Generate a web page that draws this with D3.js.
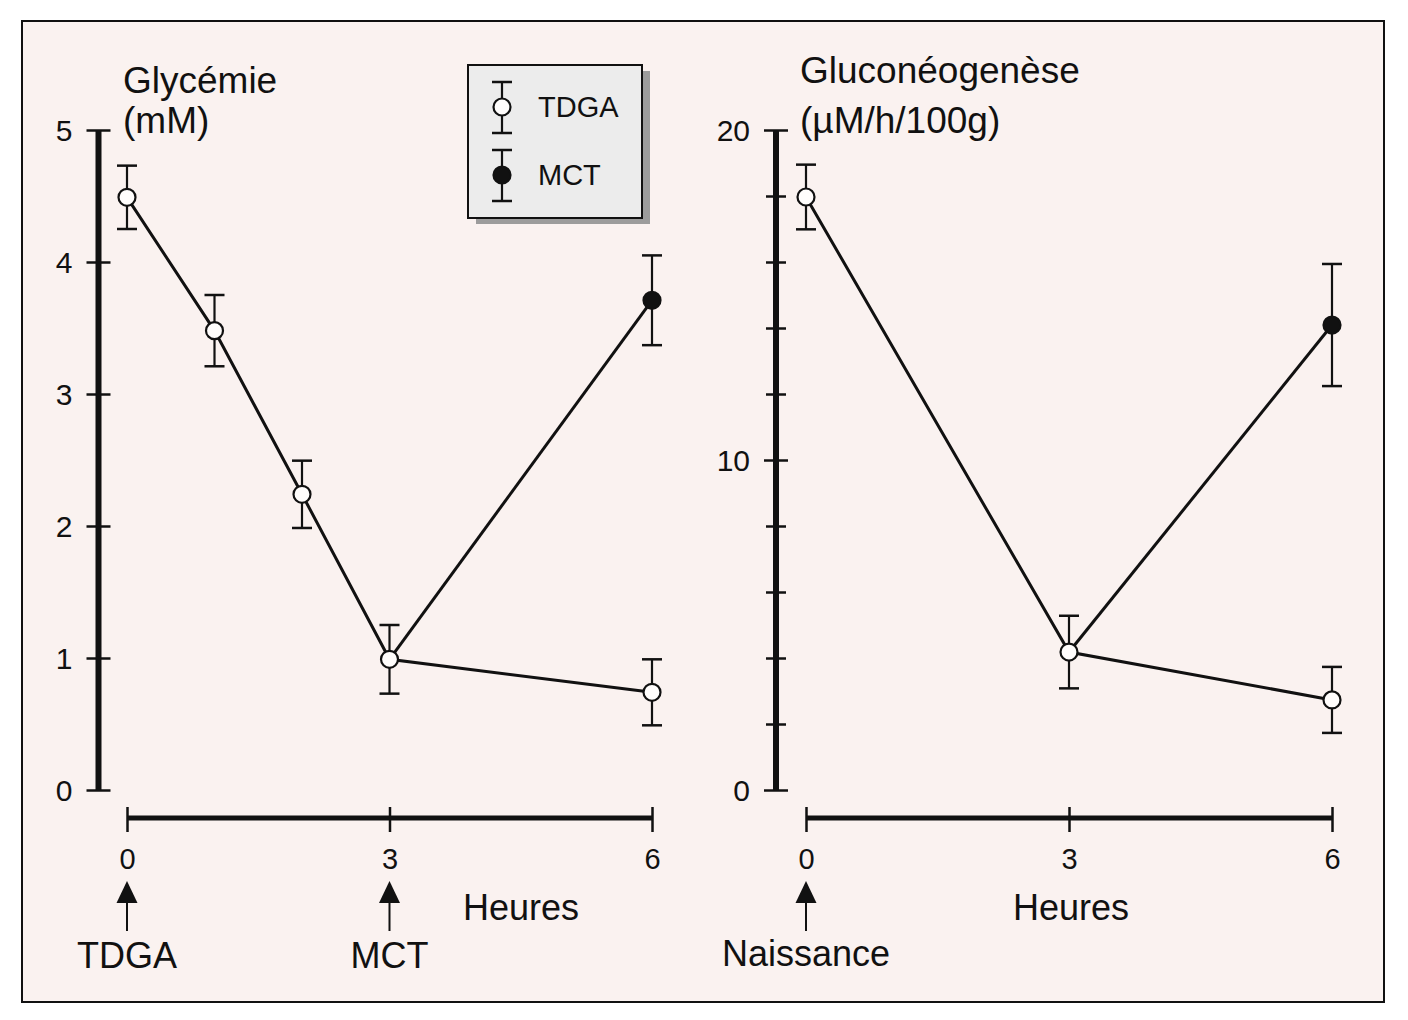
<!DOCTYPE html>
<html><head><meta charset="utf-8">
<script src="https://cdn.jsdelivr.net/npm/d3@7"></script>
<style>
html,body{margin:0;padding:0;background:#fff;}
svg{display:block;}
text{font-family:"Liberation Sans",Arial,Helvetica,sans-serif;fill:#111;}
</style></head>
<body>
<svg id="chart" width="1408" height="1020"></svg>
<script>
// ---- data ----
const hoursGly = [0, 1, 2, 3, 6];
const glyTDGA = [4.49, 3.48, 2.24, 0.99, 0.74];
const glyTDGAerr = [0.24, 0.27, 0.255, 0.26, 0.25];
const glyMCTHours = [6];
const glyMCT = [3.71];
const glyMCTerr = [0.34];

const hoursGng = [0, 3, 6];
const gngTDGA = [17.97, 4.18, 2.73];
const gngTDGAerr = [0.98, 1.1, 1.0];
const gngMCTHours = [6];
const gngMCT = [14.09];
const gngMCTerr = [1.85];

const glyTicks = [0, 1, 2, 3, 4, 5];
const gngTicks = [0, 2, 4, 6, 8, 10, 12, 14, 16, 18, 20];
const gngLabelled = [0, 10, 20];
const hourTicks = [0, 3, 6];
const seriesNames = ["TDGA", "MCT"];

// ---- drawing ----
const svg = d3.select("#chart");
const BG = "#faf2f0";
svg.append("rect").attr("x", 22).attr("y", 21).attr("width", 1362).attr("height", 981)
  .attr("fill", BG).attr("stroke", "#111").attr("stroke-width", 2);

function panel(opts) {
  const x = d3.scaleLinear().domain([0, 6]).range(opts.xRange);
  const y = d3.scaleLinear().domain(opts.yDomain).range([790, 130]);
  const g = svg.append("g");
  const axX = opts.axisX;

  // y axis
  const yAxis = d3.axisLeft(y).tickValues(opts.yTicks).tickSize(0).tickPadding(26)
    .tickFormat(d => opts.yLabelled.includes(d) ? d3.format("d")(d) : "");
  const ya = g.append("g").attr("transform", `translate(${axX},0)`).call(yAxis);
  ya.select(".domain").remove();
  ya.append("line").attr("x1", 0).attr("x2", 0).attr("y1", y.range()[0]).attr("y2", y.range()[1])
    .attr("stroke", "#111").attr("stroke-width", 6);
  ya.selectAll(".tick").append("line")
    .attr("x1", d => opts.yLabelled.includes(d) ? -12 : -10)
    .attr("x2", d => opts.yLabelled.includes(d) ? 12 : 10)
    .attr("stroke", "#111").attr("stroke-width", 2.5);
  ya.selectAll(".tick text").attr("font-size", 30).attr("fill", "#111").attr("dy", "0.36em")
    .style("font-family", '"Liberation Sans",Arial,sans-serif');

  // x axis
  const xAxis = d3.axisBottom(x).tickValues(hourTicks).tickSize(0).tickFormat(d3.format("d"));
  const xa = g.append("g").attr("transform", "translate(0,818)").call(xAxis);
  xa.select(".domain").remove();
  xa.append("line").attr("x1", x(0)).attr("x2", x(6)).attr("y1", 0).attr("y2", 0)
    .attr("stroke", "#111").attr("stroke-width", 5);
  xa.selectAll(".tick").append("line").attr("y1", -11).attr("y2", 14)
    .attr("stroke", "#111").attr("stroke-width", 2.5);
  xa.selectAll(".tick text").attr("font-size", 29).attr("fill", "#111").attr("y", 51).attr("dy", null)
    .style("font-family", '"Liberation Sans",Arial,sans-serif');

  // titles
  const t = g.append("text").attr("x", opts.titleX).attr("font-size", 37);
  t.append("tspan").attr("x", opts.titleX).attr("y", opts.titleY).text(opts.title[0]);
  t.append("tspan").attr("x", opts.titleX).attr("y", 133).text(opts.title[1]);

  // Heures
  g.append("text").attr("x", opts.heuresX).attr("y", 920).attr("text-anchor", "middle")
    .attr("font-size", 36).text("Heures");

  // arrows
  opts.arrows.forEach(a => {
    const ax = x(a.h);
    g.append("line").attr("x1", ax).attr("x2", ax).attr("y1", 931).attr("y2", 898)
      .attr("stroke", "#111").attr("stroke-width", 2);
    g.append("path").attr("d", `M${ax},881 L${ax - 10.5},903 L${ax + 10.5},903 Z`).attr("fill", "#111");
    g.append("text").attr("x", ax).attr("y", a.y).attr("text-anchor", "middle")
      .attr("font-size", 36).text(a.label);
  });

  // lines
  const line = d3.line().x(d => x(d.h)).y(d => y(d.v));
  const tdga = opts.hours.map((h, i) => ({h, v: opts.tdga[i], e: opts.tdgaErr[i]}));
  const mct = opts.mctHours.map((h, i) => ({h, v: opts.mct[i], e: opts.mctErr[i]}));
  const start = tdga.find(d => d.h === 3);
  g.append("path").datum(tdga).attr("d", line).attr("fill", "none").attr("stroke", "#111").attr("stroke-width", 3);
  g.append("path").datum([start, ...mct]).attr("d", line).attr("fill", "none").attr("stroke", "#111").attr("stroke-width", 3);

  function points(data, fill) {
    data.forEach(d => {
      const px = x(d.h), hi = y(d.v + d.e), lo = y(d.v - d.e);
      g.append("line").attr("x1", px).attr("x2", px).attr("y1", hi).attr("y2", lo)
        .attr("stroke", "#111").attr("stroke-width", 2.2);
      [hi, lo].forEach(yy => g.append("line").attr("x1", px - 10).attr("x2", px + 10)
        .attr("y1", yy).attr("y2", yy).attr("stroke", "#111").attr("stroke-width", 2.5));
      g.append("circle").attr("cx", px).attr("cy", y(d.v)).attr("r", 8.5)
        .attr("fill", fill).attr("stroke", "#111").attr("stroke-width", 2.2);
    });
  }
  points(tdga, "#fffdfc");
  points(mct, "#111");
}

panel({
  xRange: [127, 652], axisX: 98.5, yDomain: [0, 5], yTicks: glyTicks, yLabelled: glyTicks,
  title: ["Glycémie", "(mM)"], titleX: 123, titleY: 93, heuresX: 521,
  hours: hoursGly, tdga: glyTDGA, tdgaErr: glyTDGAerr,
  mctHours: glyMCTHours, mct: glyMCT, mctErr: glyMCTerr,
  arrows: [{h: 0, label: "TDGA", y: 968}, {h: 3, label: "MCT", y: 968}]
});
panel({
  xRange: [806, 1332], axisX: 776, yDomain: [0, 20], yTicks: gngTicks, yLabelled: gngLabelled,
  title: ["Gluconéogenèse", "(µM/h/100g)"], titleX: 800, titleY: 83, heuresX: 1071,
  hours: hoursGng, tdga: gngTDGA, tdgaErr: gngTDGAerr,
  mctHours: gngMCTHours, mct: gngMCT, mctErr: gngMCTerr,
  arrows: [{h: 0, label: "Naissance", y: 966}]
});

// legend
const lg = svg.append("g");
lg.append("rect").attr("x", 476).attr("y", 71).attr("width", 174).attr("height", 153).attr("fill", "#9c9c9c");
lg.append("rect").attr("x", 468).attr("y", 65).attr("width", 174).attr("height", 153)
  .attr("fill", "#ececec").attr("stroke", "#111").attr("stroke-width", 2);
seriesNames.forEach((name, i) => {
  const cy = 107 + i * 68;
  lg.append("line").attr("x1", 502).attr("x2", 502).attr("y1", cy - 25).attr("y2", cy + 26)
    .attr("stroke", "#111").attr("stroke-width", 2.2);
  [cy - 25, cy + 26].forEach(yy => lg.append("line").attr("x1", 492).attr("x2", 512)
    .attr("y1", yy).attr("y2", yy).attr("stroke", "#111").attr("stroke-width", 2.5));
  lg.append("circle").attr("cx", 502).attr("cy", cy).attr("r", 8.5)
    .attr("fill", i === 0 ? "#fffdfc" : "#111").attr("stroke", "#111").attr("stroke-width", 2.2);
  lg.append("text").attr("x", 538).attr("y", cy + 10).attr("font-size", 29).text(name);
});
</script>
</body></html>
